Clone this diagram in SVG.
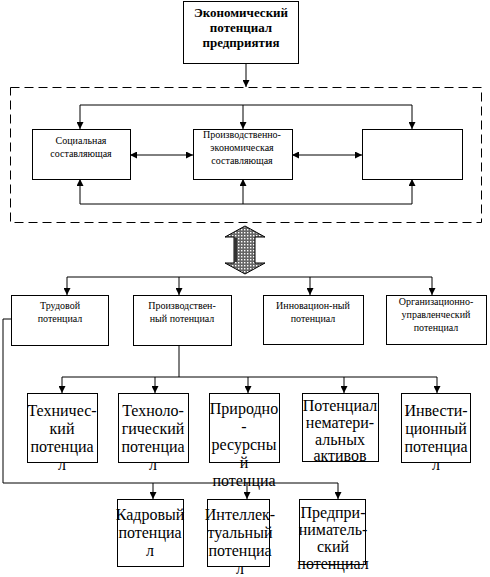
<svg xmlns="http://www.w3.org/2000/svg" width="490" height="577" viewBox="0 0 490 577">
<defs>
<marker id="ah" viewBox="0 0 8 8" refX="8" refY="4" markerWidth="7" markerHeight="7" markerUnits="userSpaceOnUse" orient="auto-start-reverse">
<path d="M0,0 L8,4 L0,8 z" fill="#000"/>
</marker>
<pattern id="dots" width="3" height="3" patternUnits="userSpaceOnUse">
<rect width="3" height="3" fill="#666"/>
<rect x="1" y="1" width="1.4" height="1.4" fill="#fff"/>
</pattern>
<style>
.box{fill:#fff;stroke:#000;stroke-width:1}
.ln{fill:none;stroke:#000;stroke-width:1}
.arr{fill:none;stroke:#000;stroke-width:1;marker-end:url(#ah)}
.dbl{fill:none;stroke:#000;stroke-width:1;marker-start:url(#ah);marker-end:url(#ah)}
text{fill:#000;text-anchor:middle}
.t{font-size:10px}
.tb{font-size:13px;font-weight:bold}
.tl{font-size:16px}
</style>
</defs>
<rect width="490" height="577" fill="#fff"/>

<g id="connectors">
<line class="arr" x1="246" y1="63" x2="246" y2="87"/>
<rect x="10.5" y="87.5" width="471" height="135" fill="none" stroke="#000" stroke-width="1" stroke-dasharray="9 5"/>
<polyline class="ln" points="80,105 412,105"/>
<line class="arr" x1="80" y1="105" x2="80" y2="129"/>
<line class="arr" x1="243" y1="105" x2="243" y2="129"/>
<line class="arr" x1="412" y1="105" x2="412" y2="129"/>
<polyline class="ln" points="80,204 412,204"/>
<line class="arr" x1="80" y1="204" x2="80" y2="179"/>
<line class="arr" x1="243" y1="204" x2="243" y2="179"/>
<line class="arr" x1="412" y1="204" x2="412" y2="179"/>
<line class="dbl" x1="130" y1="155" x2="193" y2="155"/>
<line class="dbl" x1="292" y1="155" x2="362" y2="155"/>
<polygon points="245,226 225,237 234,237 234,263 225,263 245,274 265,263 255,263 255,237 265,237" fill="url(#dots)" stroke="#000" stroke-width="1"/>
<line x1="236" y1="238" x2="236" y2="262" stroke="#333" stroke-width="2"/>
<polyline class="ln" points="67,277 432,277"/>
<line class="arr" x1="67" y1="277" x2="67" y2="295"/>
<line class="arr" x1="179" y1="277" x2="179" y2="295"/>
<line class="arr" x1="310" y1="277" x2="310" y2="295"/>
<line class="arr" x1="432" y1="277" x2="432" y2="295"/>
<polyline class="ln" points="179,345 179,377"/>
<polyline class="ln" points="62,377 437,377"/>
<line class="arr" x1="62" y1="377" x2="62" y2="393"/>
<line class="arr" x1="155" y1="377" x2="155" y2="393"/>
<line class="arr" x1="248" y1="377" x2="248" y2="393"/>
<line class="arr" x1="344" y1="377" x2="344" y2="393"/>
<line class="arr" x1="437" y1="377" x2="437" y2="393"/>
<polyline class="ln" points="11,319 3,319 3,483 338,483"/>
<line class="arr" x1="153" y1="483" x2="153" y2="499"/>
<line class="arr" x1="247" y1="483" x2="247" y2="499"/>
<line class="arr" x1="338" y1="483" x2="338" y2="499"/>
</g>

<g font-family="Liberation Serif, Times New Roman, serif">
<g id="n-econ">
<rect class="box" x="183.5" y="1.5" width="115" height="62"/>
<text class="tb" x="241" y="17">Экономический</text>
<text class="tb" x="241" y="32">потенциал</text>
<text class="tb" x="241" y="47">предприятия</text>
</g>

<g id="n-social">
<rect class="box" x="32.5" y="129.5" width="98" height="50"/>
<text class="t" x="81" y="144">Социальная</text>
<text class="t" x="81" y="157">составляющая</text>
</g>
<g id="n-prodecon">
<rect class="box" x="193.5" y="129.5" width="99" height="50"/>
<text class="t" x="242" y="138">Производственно-</text>
<text class="t" x="242" y="151">экономическая</text>
<text class="t" x="242" y="164">составляющая</text>
</g>
<g id="n-empty">
<rect class="box" x="362.5" y="129.5" width="100" height="50"/>
</g>

<g id="n-trud">
<rect class="box" x="11.5" y="295.5" width="97" height="50"/>
<text class="t" x="60" y="309">Трудовой</text>
<text class="t" x="60" y="322">потенциал</text>
</g>
<g id="n-proizv">
<rect class="box" x="133.5" y="295.5" width="98" height="50"/>
<text class="t" x="182" y="309">Производствен-</text>
<text class="t" x="182" y="322">ный потенциал</text>
</g>
<g id="n-innov">
<rect class="box" x="263.5" y="295.5" width="100" height="49"/>
<text class="t" x="313" y="309">Инновацион-ный</text>
<text class="t" x="313" y="322">потенциал</text>
</g>
<g id="n-org">
<rect class="box" x="386.5" y="295.5" width="100" height="49"/>
<text class="t" x="436" y="305">Организационно-</text>
<text class="t" x="436" y="318">управленческий</text>
<text class="t" x="436" y="331">потенциал</text>
</g>

<g id="n-tech">
<rect class="box" x="27.5" y="393.5" width="70" height="69"/>
<text class="tl" x="62" y="416">Техничес-</text>
<text class="tl" x="62" y="434">кий</text>
<text class="tl" x="62" y="452">потенциа</text>
<text class="tl" x="62" y="470">л</text>
</g>
<g id="n-technol">
<rect class="box" x="118.5" y="393.5" width="70" height="69"/>
<text class="tl" x="153" y="416">Техноло-</text>
<text class="tl" x="153" y="434">гический</text>
<text class="tl" x="153" y="452">потенциа</text>
<text class="tl" x="153" y="470">л</text>
</g>
<g id="n-prirod">
<rect class="box" x="209.5" y="393.5" width="70" height="69"/>
<text class="tl" x="244" y="414">Природно</text>
<text class="tl" x="244" y="432">-</text>
<text class="tl" x="244" y="450">ресурсны</text>
<text class="tl" x="244" y="468">й</text>
<text class="tl" x="244" y="486">потенциа</text>
</g>
<g id="n-nemat">
<rect class="box" x="302.5" y="393.5" width="76" height="68"/>
<text class="tl" x="340" y="411">Потенциал</text>
<text class="tl" x="340" y="428">нематери-</text>
<text class="tl" x="340" y="445">альных</text>
<text class="tl" x="340" y="461">активов</text>
</g>
<g id="n-invest">
<rect class="box" x="401.5" y="393.5" width="69" height="69"/>
<text class="tl" x="436" y="416">Инвести-</text>
<text class="tl" x="436" y="434">ционный</text>
<text class="tl" x="436" y="452">потенциа</text>
<text class="tl" x="436" y="470">л</text>
</g>

<g id="n-kadr">
<rect class="box" x="117.5" y="499.5" width="66" height="67"/>
<text class="tl" x="150" y="520">Кадровый</text>
<text class="tl" x="150" y="538">потенциа</text>
<text class="tl" x="150" y="556">л</text>
</g>
<g id="n-intel">
<rect class="box" x="207.5" y="499.5" width="62" height="67"/>
<text class="tl" x="240" y="520">Интеллек-</text>
<text class="tl" x="240" y="538">туальный</text>
<text class="tl" x="240" y="556">потенциа</text>
<text class="tl" x="240" y="574">л</text>
</g>
<g id="n-predpr">
<rect class="box" x="299.5" y="499.5" width="66" height="65"/>
<text class="tl" x="333" y="518">Предпри-</text>
<text class="tl" x="333" y="535">ниматель-</text>
<text class="tl" x="333" y="552">ский</text>
<text class="tl" x="333" y="569">потенциал</text>
</g>
</g>
</svg>
